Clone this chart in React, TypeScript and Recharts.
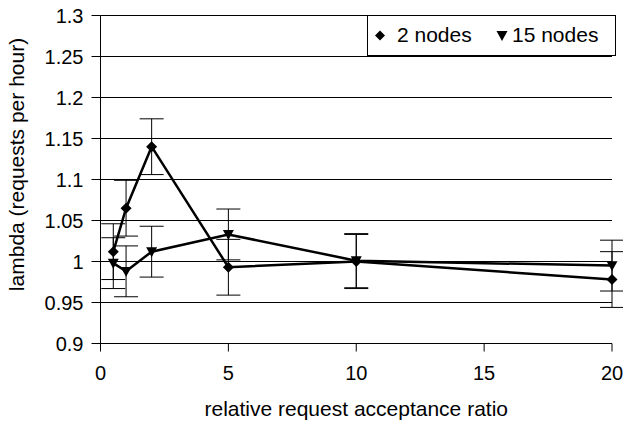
import React from 'react';
import { LineChart, Line, XAxis, YAxis, CartesianGrid, ErrorBar, Legend } from 'recharts';

const ratios = [0.5, 1, 2, 5, 10, 20];
const lambda2 = [1.012, 1.065, 1.14, 0.993, 1.0, 0.978];
const err2 = [0.034, 0.034, 0.034, 0.034, 0.033, 0.034];
const lambda15 = [0.998, 0.988, 1.012, 1.033, 1.001, 0.995];
const err15 = [0.031, 0.031, 0.031, 0.031, 0.033, 0.031];

const xTicks = [0, 5, 10, 15, 20];
const yTicks = [0.9, 0.95, 1, 1.05, 1.1, 1.15, 1.2, 1.25, 1.3];
const yTickLabels = ['0.9', '0.95', '1', '1.05', '1.1', '1.15', '1.2', '1.25', '1.3'];

const seriesNames = ['2 nodes', '15 nodes'];

const FONT = '"Liberation Sans", Arial, sans-serif';

const data = ratios.map((r, i) => ({
  x: r,
  n2: lambda2[i],
  e2: err2[i],
  n15: lambda15[i],
  e15: err15[i],
}));

const diamondPath = (cx: number, cy: number, s: number) =>
  `M${cx},${cy - s} L${cx + s},${cy} L${cx},${cy + s} L${cx - s},${cy} Z`;

const triDownPath = (cx: number, cy: number, s: number) =>
  `M${cx - s},${cy - s * 0.8} L${cx + s},${cy - s * 0.8} L${cx},${cy + s} Z`;

const renderDiamond = (p: any) => (
  <path key={`d-${p.index}`} d={diamondPath(p.cx, p.cy, 5.5)} fill="#000" />
);

const renderTriangle = (p: any) => (
  <path key={`t-${p.index}`} d={triDownPath(p.cx, p.cy, 5.5)} fill="#000" />
);

function LegendBox() {
  return (
    <div
      style={{
        width: 249,
        height: 41,
        boxSizing: 'border-box',
        border: '1px solid #000',
        background: '#fff',
        position: 'relative',
        fontFamily: FONT,
        fontSize: 21,
        color: '#000',
      }}
    >
      <svg width={247} height={39} style={{ position: 'absolute', left: 0, top: 0 }}>
        <path d={diamondPath(12, 19.5, 5)} fill="#000" />
        <path d={triDownPath(134, 19.5, 5.5)} fill="#000" />
      </svg>
      <span style={{ position: 'absolute', left: 29, top: 7, lineHeight: '24px' }}>{seriesNames[0]}</span>
      <span style={{ position: 'absolute', left: 144, top: 7, lineHeight: '24px' }}>{seriesNames[1]}</span>
    </div>
  );
}

export default function App() {
  return (
    <div style={{ position: 'absolute', left: 0, top: 0, width: 623, height: 424, background: '#fff' }}>
      <LineChart
        width={623}
        height={424}
        data={data}
        margin={{ top: 15.5, right: 11, left: 0, bottom: 0 }}
        style={{ fontFamily: FONT }}
      >
        <CartesianGrid vertical={false} stroke="#000" strokeWidth={1} />
        <XAxis
          dataKey="x"
          type="number"
          domain={[0, 20]}
          ticks={xTicks}
          height={80.5}
          tickSize={8}
          tickMargin={14}
          stroke="#000"
          tick={{ fill: '#000', fontSize: 20 }}
          label={{
            value: 'relative request acceptance ratio',
            position: 'insideBottom',
            offset: 8,
            fill: '#000',
            fontSize: 21,
          }}
        />
        <YAxis
          type="number"
          domain={[0.9, 1.3]}
          ticks={yTicks}
          tickFormatter={(v: number) => yTickLabels[yTicks.indexOf(v)] ?? String(v)}
          width={100.5}
          tickSize={9}
          tickMargin={8}
          stroke="#000"
          tick={{ fill: '#000', fontSize: 20 }}
          allowDataOverflow
          label={{
            value: 'lambda (requests per hour)',
            angle: -90,
            position: 'insideLeft',
            offset: 17,
            textAnchor: 'middle',
            dy: -15,
            fill: '#000',
            fontSize: 21,
          }}
        />
        <Legend
          layout="vertical"
          align="center"
          verticalAlign="middle"
          wrapperStyle={{ top: 15, left: 367, width: 249, height: 41 }}
          content={() => <LegendBox />}
        />
        <Line
          type="linear"
          dataKey="n2"
          name={seriesNames[0]}
          stroke="#000"
          strokeWidth={2.5}
          dot={renderDiamond}
          activeDot={false}
          isAnimationActive={false}
        >
          <ErrorBar dataKey="e2" direction="y" width={12} stroke="#000" strokeWidth={1} />
        </Line>
        <Line
          type="linear"
          dataKey="n15"
          name={seriesNames[1]}
          stroke="#000"
          strokeWidth={2.5}
          dot={renderTriangle}
          activeDot={false}
          isAnimationActive={false}
        >
          <ErrorBar dataKey="e15" direction="y" width={12} stroke="#000" strokeWidth={1} />
        </Line>
      </LineChart>
    </div>
  );
}
